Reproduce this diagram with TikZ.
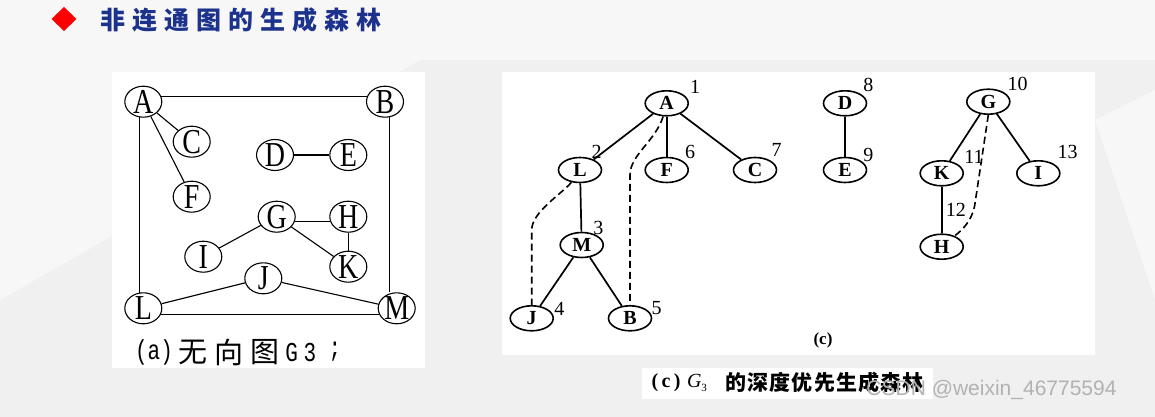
\documentclass[tikz,border=0pt]{standalone}
\usepackage{fontspec}
\usetikzlibrary{shapes.geometric,calc}
\setmainfont{Liberation Serif}
\newfontfamily\cjkf{Noto Sans CJK SC}
\newfontfamily\monof{Liberation Mono}
\newfontfamily\sansf{Liberation Sans}
\definecolor{bgc}{RGB}{240,240,240}
\definecolor{bgl}{RGB}{247,247,247}
\definecolor{titleblue}{RGB}{28,50,140}
\newcommand\ctrbox[1]{\makebox[0pt]{\smash{\raisebox{-0.5\height}{#1}}}}
\newcommand\LL[1]{\ctrbox{\scalebox{1}[1.25]{#1}}}
\tikzset{
 lnode/.style={ellipse,draw,line width=1.1pt,fill=white,minimum width=37pt,minimum height=31pt,inner sep=0pt,font=\fontsize{28}{30}\selectfont},
 rnode/.style={ellipse,draw,line width=1.6pt,fill=white,minimum width=43pt,minimum height=25pt,inner sep=0pt,font=\bfseries\fontsize{20}{22}\selectfont},
 ledge/.style={line width=1.1pt},
 redge/.style={line width=1.7pt},
 dedge/.style={line width=1.6pt,dash pattern=on 7pt off 4pt},
 num/.style={inner sep=0pt,font=\fontsize{20}{22}\selectfont},
 titlech/.style={inner sep=0pt,text=titleblue,font=\cjkf\bfseries\fontsize{25}{27}\selectfont},
 capch/.style={inner sep=0pt,font=\cjkf\bfseries\fontsize{21}{23}\selectfont},
 lcapch/.style={inner sep=0pt,font=\cjkf\fontsize{29}{31}\selectfont},
 lcapm/.style={inner sep=0pt,font=\monof\fontsize{21}{23}\selectfont},
}
\begin{document}
\begin{tikzpicture}[x=1pt,y=-1pt]
\useasboundingbox (0,0) rectangle (1155,417);
% background
\fill[bgc] (0,0) rectangle (1155,417);
\fill[bgl] (0,0) rectangle (1155,60);
\fill[bgl] (0,60) -- (420,60) -- (0,300) -- cycle;
\fill[bgl] (1095,120) -- (1155,90) -- (1155,300) -- cycle;
% panels
\fill[white] (112,72) rectangle (425,368);
\fill[white] (502,72) rectangle (1095,355);
\fill[white] (642,368) rectangle (933,399);

% title
\fill[red] (64,7) -- (76.5,19) -- (64,31) -- (51.5,19) -- cycle;
\foreach \c [count=\i from 0] in {非,连,通,图,的,生,成,森,林}
  \node[titlech] (t\i) at (113.3+32*\i,20) {\c};

% ---------- left graph (a) ----------
\node[lnode] (lA) at (143.3,101.7) {\LL{A}};
\node[lnode] (lB) at (385,101.7) {\LL{B}};
\node[lnode] (lC) at (191.7,141.7) {\LL{C}};
\node[lnode] (lD) at (275,155) {\LL{D}};
\node[lnode] (lE) at (348.3,155) {\LL{E}};
\node[lnode] (lF) at (191.7,196.7) {\LL{F}};
\node[lnode] (lG) at (276.7,216.7) {\LL{G}};
\node[lnode] (lH) at (348.3,216.7) {\LL{H}};
\node[lnode] (lI) at (203.3,256.7) {\LL{I}};
\node[lnode] (lK) at (348.3,266.7) {\LL{K}};
\node[lnode] (lJ) at (263.3,278.3) {\LL{J}};
\node[lnode] (lL) at (143.3,308.3) {\LL{L}};
\node[lnode] (lM) at (396.7,308.3) {\LL{M}};

\draw[ledge] (lA.15) -- (lB.165);
\draw[ledge] (lA) -- (lC);
\draw[ledge] (lA) -- (lF);
\draw[ledge] (lA.255) -- (lL.105);
\draw[ledge] (lB.285) -- (lB.285 |- lM.north);
\draw[ledge] (lD) -- (lE);
\draw[ledge] (lG.-15) -- (lH.195);
\draw[ledge] (lG) -- (lI);
\draw[ledge] (lG) -- (lK);
\draw[ledge] (lH) -- (lK);
\draw[ledge] (lJ) -- (lL);
\draw[ledge] (lJ) -- (lM);
\draw[ledge] (lL.-20) -- (lM.200);

% caption (a)
\node[lcapm] (capa) at (154,352) {\scalebox{1}[1.3]{(a)}};
\node[lcapch] (cw1) at (192.5,352) {无};
\node[lcapch] (cw2) at (228.5,352) {向};
\node[lcapch] (cw3) at (265,352) {图};
\node[lcapm] (cg) at (291.7,352) {\scalebox{1}[1.3]{G}};
\node[lcapm] (c3) at (310,352) {\scalebox{1}[1.3]{3}};
\node[lcapm] (cs) at (335,352) {\scalebox{1}[1.3]{;}};

% ---------- right forest (c) ----------
\node[rnode] (rA) at (666.7,103.3) {\ctrbox{A}};
\node[rnode] (rL) at (580,170) {\ctrbox{L}};
\node[rnode] (rF) at (666.7,170) {\ctrbox{F}};
\node[rnode] (rC) at (755,170) {\ctrbox{C}};
\node[rnode] (rM) at (581.7,245) {\ctrbox{M}};
\node[rnode] (rJ) at (531.7,318.3) {\ctrbox{J}};
\node[rnode] (rB) at (630,318.3) {\ctrbox{B}};
\node[rnode] (rD) at (845,103.3) {\ctrbox{D}};
\node[rnode] (rE) at (845,170) {\ctrbox{E}};
\node[rnode] (rG) at (988.3,101.7) {\ctrbox{G}};
\node[rnode] (rK) at (941.7,173.3) {\ctrbox{K}};
\node[rnode] (rI) at (1038.3,173.3) {\ctrbox{I}};
\node[rnode] (rH) at (941.7,246.7) {\ctrbox{H}};

\draw[redge] (rA) -- (rL);
\draw[redge] (rA) -- (rF);
\draw[redge] (rA) -- (rC);
\draw[redge] (rL) -- (rM);
\draw[redge] (rM) -- (rJ);
\draw[redge] (rM) -- (rB);
\draw[redge] (rD) -- (rE);
\draw[redge] (rG) -- (rK);
\draw[redge] (rG) -- (rI);
\draw[redge] (rK) -- (rH);

\draw[dedge] (rL.235) .. controls +(-10,12) and +(0,-18) .. ($(rJ.north)+(0,-75)$) -- (rJ.north);
\draw[dedge] (rA.255) .. controls +(-8,25) and +(0,-20) .. ($(rB.north)+(0,-130)$) -- (rB.north);
\draw[dedge] (rG.south) -- ($(rH.40)+(20,-30)$) .. controls +(-3,15) and +(8,-6) .. (rH.40);

% order numbers
\node[num] (n1) at (695,87) {1};
\node[num] (n2) at (596.7,151.7) {2};
\node[num] (n3) at (598.3,228.3) {3};
\node[num] (n4) at (559.3,309.2) {4};
\node[num] (n5) at (656.7,308.3) {5};
\node[num] (n6) at (690,151.7) {6};
\node[num] (n7) at (776.7,150) {7};
\node[num] (n8) at (868.3,85) {8};
\node[num] (n9) at (868.3,155) {9};
\node[num] (n10) at (1017.5,84.2) {10};
\node[num] (n11) at (974,156.7) {11};
\node[num] (n12) at (955.8,210) {12};
\node[num] (n13) at (1067.5,151.7) {13};
\node[inner sep=0pt,font=\bfseries\fontsize{17}{19}\selectfont] (clab) at (823,340) {(c)};

% caption (c)
\node[inner sep=0pt,font=\bfseries\fontsize{20}{22}\selectfont] (cc) at (666,383) {(\,c\,)};
\node[inner sep=0pt,font=\fontsize{20}{22}\selectfont] (cG) at (697,383) {\textit{G}\raisebox{-0.35ex}{\fontsize{11}{12}\selectfont 3}};
\foreach \c [count=\i from 0] in {的,深,度,优,先,生,成,森,林}
  \node[capch] (cc\i) at (735.8+22.2*\i,382.3) {\c};

% watermark
\node[inner sep=0pt,text=black!30,font=\sansf\fontsize{21}{23}\selectfont] (wm) at (991.5,390) {CSDN @weixin\_46775594};
\end{tikzpicture}
\end{document}
